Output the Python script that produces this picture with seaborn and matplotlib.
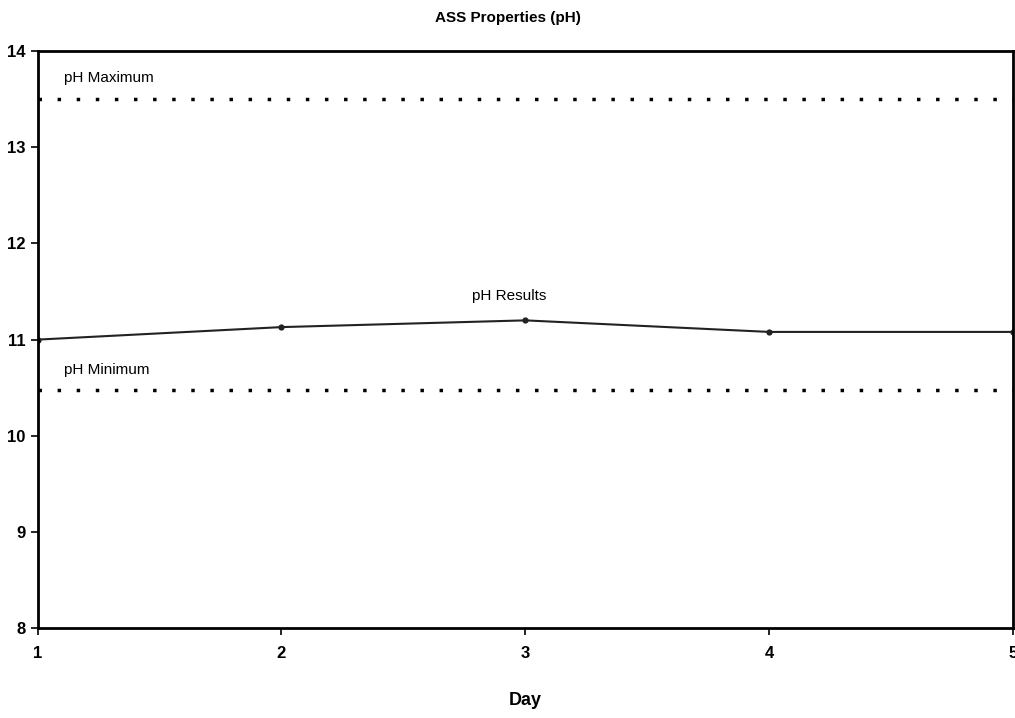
import matplotlib
matplotlib.use("Agg")
import matplotlib.pyplot as plt
import seaborn as sns
import pandas as pd

days = [1, 2, 3, 4, 5]
ph_results = [11.00, 11.13, 11.20, 11.08, 11.08]
ph_max = 13.5
ph_min = 10.48
title = "ASS Properties (pH)"

sns.set_style("ticks")
plt.rcParams['font.family'] = ['Liberation Sans Narrow', 'Liberation Sans', 'DejaVu Sans']
plt.rcParams['text.color'] = 'black'
plt.rcParams['axes.labelcolor'] = 'black'
plt.rcParams['xtick.color'] = 'black'
plt.rcParams['ytick.color'] = 'black'

fig = plt.figure(figsize=(10.15, 7.18), dpi=100)
ax = fig.add_axes([0.037, 0.125, 0.961, 0.804])

df = pd.DataFrame({"Day": days, "pH": ph_results})
sns.lineplot(data=df, x="Day", y="pH", ax=ax, color="#222222", linewidth=1.5,
             marker="o", markersize=4.5, markeredgewidth=0)
ax.axhline(ph_max, color="black", linestyle=(0, (1, 4.5)), linewidth=2.5)
ax.axhline(ph_min, color="black", linestyle=(0, (1, 4.5)), linewidth=2.5)

ax.text(1.11, 13.72, "pH Maximum", fontsize=11, va="center", ha="left", color="black")
ax.text(1.11, 10.68, "pH Minimum", fontsize=11, va="center", ha="left", color="black")
ax.text(2.78, 11.45, "pH Results", fontsize=11, va="center", ha="left", color="black")

ax.set_xlim(1, 5)
ax.set_ylim(8, 14)
ax.set_xticks(days)
ax.set_yticks([8, 9, 10, 11, 12, 13, 14])
ax.tick_params(axis="both", labelsize=12, width=1.2, length=5, direction="out", colors="black")
for lab in ax.get_xticklabels() + ax.get_yticklabels():
    lab.set_fontweight("bold")
ax.tick_params(axis="x", pad=8)
for s in ax.spines.values():
    s.set_visible(True)
    s.set_linewidth(2)
    s.set_color("black")

ax.set_xlabel("Day", fontsize=13, fontweight="bold", labelpad=22, color="black")
ax.set_ylabel("")
fig.text(0.5, 0.975, title, ha="center", va="center", fontsize=11, fontweight="bold", color="black")

fig.savefig("out.png", dpi=100)
